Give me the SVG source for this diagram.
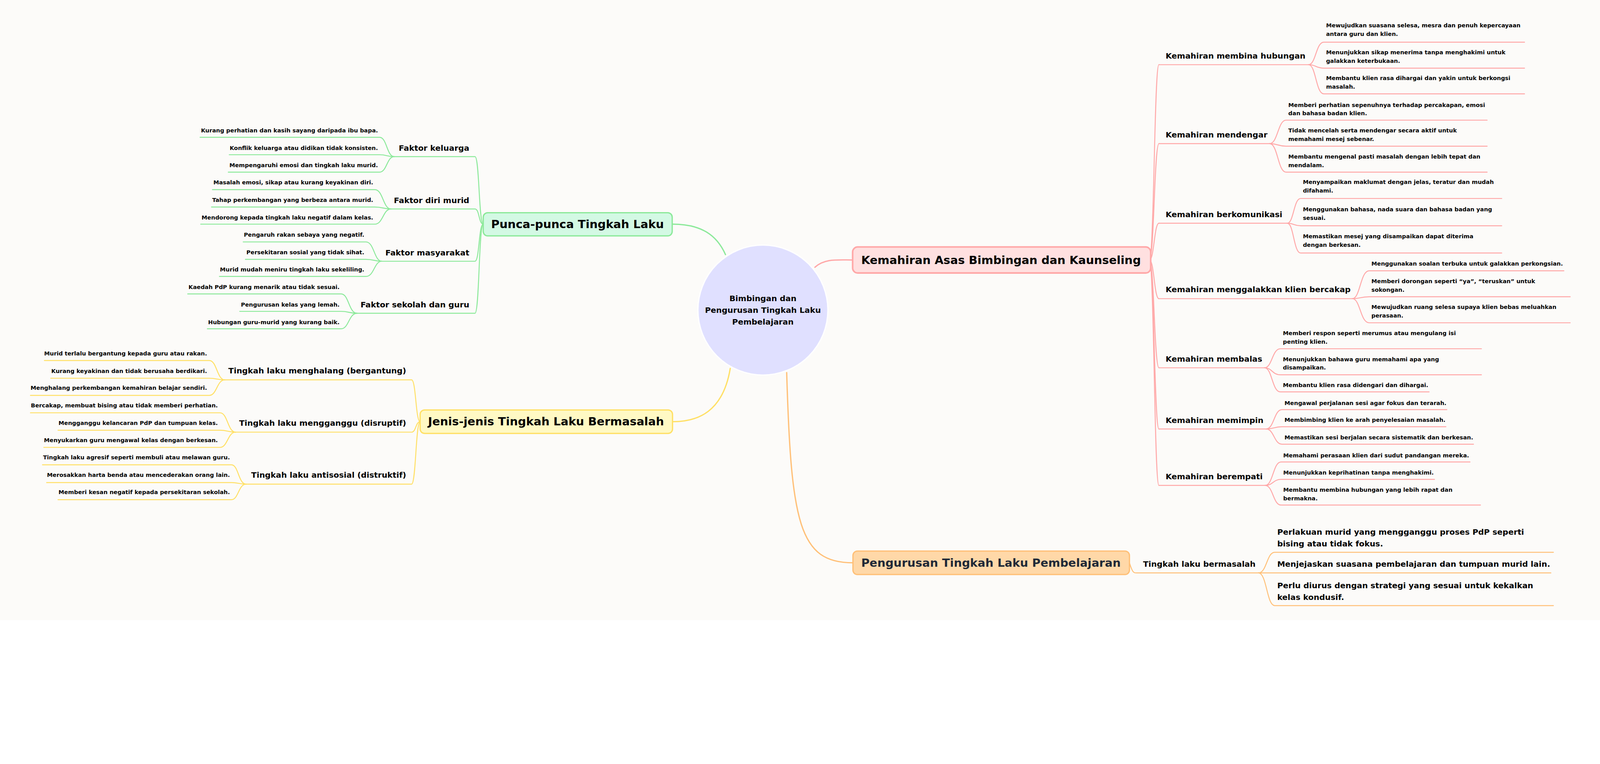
<svg xmlns="http://www.w3.org/2000/svg" width="5046" height="1956" viewBox="0 0 5046 1956" preserveAspectRatio="xMinYMin meet" style="width:100vw;height:100vh;display:block">
<style>
text{font-family:"DejaVu Sans","Liberation Sans",sans-serif;font-weight:bold;fill:#000}
.cp{stroke:#ffa8a8}.cg{stroke:#8ce99a}.cy{stroke:#ffe066}.co{stroke:#ffc078}
path,line{fill:none;stroke-width:3;stroke-linecap:round}
.m{stroke-width:4}
.t1{font-size:36px}.tc{font-size:25px}
.p2{font-size:25px}.p3{font-size:18px}
.g2{font-size:25px}.g3{font-size:18px}
.o2{font-size:25px}.o3{font-size:25px}
.e{text-anchor:end}
</style>
<rect width="5046" height="1956" fill="#fcfbf9"/>
<g id="connectors">
<path class="cg m" d="M2121,707 C2210,707 2260,740 2288,803"/>
<path class="cp m" d="M2570,843 C2600,815 2640,820 2689,820"/>
<path class="cy m" d="M2303,1162 C2280,1300 2200,1330 2121,1330"/>
<path class="co m" d="M2481,1175 C2495,1650 2520,1775 2690,1775"/>
<path class="cp" d="M3625,820 C3640,820 3640,204 3655,204"/>
<path class="cp" d="M3625,820 C3640,820 3640,453 3655,453"/>
<path class="cp" d="M3625,820 C3640,820 3640,704 3655,704"/>
<path class="cp" d="M3625,820 C3640,820 3640,942 3655,942"/>
<path class="cp" d="M3625,820 C3640,820 3640,1160 3655,1160"/>
<path class="cp" d="M3625,820 C3640,820 3640,1353 3655,1353"/>
<path class="cp" d="M3625,820 C3640,820 3640,1531 3655,1531"/>
<line class="cp" x1="3655" y1="204" x2="4127" y2="204"/>
<line class="cp" x1="3655" y1="453" x2="4004" y2="453"/>
<line class="cp" x1="3655" y1="704" x2="4060" y2="704"/>
<line class="cp" x1="3655" y1="942" x2="4265" y2="942"/>
<line class="cp" x1="3655" y1="1160" x2="3988" y2="1160"/>
<line class="cp" x1="3655" y1="1353" x2="3993" y2="1353"/>
<line class="cp" x1="3655" y1="1531" x2="3990" y2="1531"/>
<path class="cp" d="M4127,204 C4150,204 4150,133 4175,133 H4808"/>
<path class="cp" d="M4127,204 C4150,204 4150,215 4175,215 H4808"/>
<path class="cp" d="M4127,204 C4150,204 4150,296 4175,296 H4808"/>
<path class="cp" d="M4004,453 C4030,453 4030,379 4056,379 H4690"/>
<path class="cp" d="M4004,453 C4030,453 4030,461 4056,461 H4690"/>
<path class="cp" d="M4004,453 C4030,453 4030,543 4056,543 H4690"/>
<path class="cp" d="M4060,704 C4080,704 4080,626 4102,626 H4736"/>
<path class="cp" d="M4060,704 C4080,704 4080,712 4102,712 H4736"/>
<path class="cp" d="M4060,704 C4080,704 4080,798 4102,798 H4736"/>
<path class="cp" d="M4265,942 C4290,942 4290,854 4318,854 H4932"/>
<path class="cp" d="M4265,942 C4290,942 4290,936 4318,936 H4952"/>
<path class="cp" d="M4265,942 C4290,942 4290,1018 4318,1018 H4952"/>
<path class="cp" d="M3988,1160 C4012,1160 4012,1100 4038,1100 H4672"/>
<path class="cp" d="M3988,1160 C4012,1160 4012,1182 4038,1182 H4672"/>
<path class="cp" d="M3988,1160 C4012,1160 4012,1236 4038,1236 H4507"/>
<path class="cp" d="M3993,1353 C4018,1353 4018,1292 4043,1292 H4563"/>
<path class="cp" d="M3993,1353 C4018,1353 4018,1346 4043,1346 H4560"/>
<path class="cp" d="M3993,1353 C4018,1353 4018,1401 4043,1401 H4647"/>
<path class="cp" d="M3990,1531 C4015,1531 4015,1457 4040,1457 H4636"/>
<path class="cp" d="M3990,1531 C4015,1531 4015,1512 4040,1512 H4524"/>
<path class="cp" d="M3990,1531 C4015,1531 4015,1593 4040,1593 H4669"/>
<path class="co" d="M3562,1775 C3572,1807 3575,1807 3585,1807 H3969"/>
<path class="co" d="M3969,1807 C3995,1807 3995,1742 4020,1742 H4899"/>
<path class="co" d="M3969,1807 C3995,1807 3995,1807 4020,1807 H4891"/>
<path class="co" d="M3969,1807 C3995,1807 3995,1910 4020,1910 H4899"/>
<path class="cg" d="M1524,707 C1510,707 1512,494 1498,494 H1243"/>
<path class="cg" d="M1524,707 C1510,707 1512,659 1498,659 H1233"/>
<path class="cg" d="M1524,707 C1510,707 1512,824 1498,824 H1204"/>
<path class="cg" d="M1524,707 C1510,707 1512,988 1498,988 H1126"/>
<path class="cg" d="M1243,494 C1220,494 1220,433 1197,433 H631"/>
<path class="cg" d="M1243,494 C1220,494 1220,488 1197,488 H723"/>
<path class="cg" d="M1243,494 C1220,494 1220,543 1197,543 H720"/>
<path class="cg" d="M1233,659 C1208,659 1208,598 1182,598 H670"/>
<path class="cg" d="M1233,659 C1208,659 1208,653 1182,653 H667"/>
<path class="cg" d="M1233,659 C1208,659 1208,707 1182,707 H633"/>
<path class="cg" d="M1204,824 C1180,824 1180,763 1154,763 H767"/>
<path class="cg" d="M1204,824 C1180,824 1180,818 1154,818 H774"/>
<path class="cg" d="M1204,824 C1180,824 1180,872 1154,872 H692"/>
<path class="cg" d="M1126,988 C1100,988 1100,927 1076,927 H592"/>
<path class="cg" d="M1126,988 C1100,988 1100,982 1076,982 H756"/>
<path class="cg" d="M1126,988 C1100,988 1100,1037 1076,1037 H654"/>
<path class="cy" d="M1325,1330 C1311,1330 1312,1198 1298,1198 H709"/>
<path class="cy" d="M1325,1330 C1311,1330 1312,1363 1298,1363 H743"/>
<path class="cy" d="M1325,1330 C1311,1330 1312,1527 1298,1527 H776"/>
<path class="cy" d="M709,1198 C684,1198 684,1137 660,1137 H140"/>
<path class="cy" d="M709,1198 C684,1198 684,1193 660,1193 H160"/>
<path class="cy" d="M709,1198 C684,1198 684,1247 660,1247 H96"/>
<path class="cy" d="M743,1363 C718,1363 718,1302 694,1302 H96"/>
<path class="cy" d="M743,1363 C718,1363 718,1357 694,1357 H183"/>
<path class="cy" d="M743,1363 C718,1363 718,1411 694,1411 H138"/>
<path class="cy" d="M776,1527 C752,1527 752,1466 730,1466 H134"/>
<path class="cy" d="M776,1527 C752,1527 752,1522 730,1522 H147"/>
<path class="cy" d="M776,1527 C752,1527 752,1576 730,1576 H183"/>
</g>
<g id="root">
<circle cx="2406" cy="978" r="205" fill="#e0e0ff" stroke="#fff" stroke-width="4"/>
<text class="tc" x="2406" y="950" text-anchor="middle">Bimbingan dan</text>
<text class="tc" x="2406" y="987" text-anchor="middle">Pengurusan Tingkah Laku</text>
<text class="tc" x="2406" y="1024" text-anchor="middle">Pembelajaran</text>
</g>
<g id="n-kemahiran">
<rect x="2689" y="779" width="940" height="82" rx="16" fill="#ffe0e0" stroke="#ffa8a8" stroke-width="5"/>
<text class="t1" x="2716" y="833">Kemahiran Asas Bimbingan dan Kaunseling</text>
</g>
<g id="n-punca">
<rect x="1524" y="671" width="596" height="73" rx="14" fill="#d3f9e4" stroke="#8ce99a" stroke-width="4"/>
<text class="t1" x="1549" y="720">Punca-punca Tingkah Laku</text>
</g>
<g id="n-jenis">
<rect x="1325" y="1293" width="796" height="74" rx="14" fill="#fff9c4" stroke="#ffe066" stroke-width="4"/>
<text class="t1" x="1350" y="1342">Jenis-jenis Tingkah Laku Bermasalah</text>
</g>
<g id="n-pengurusan">
<rect x="2690" y="1738" width="872" height="74" rx="14" fill="#ffd8a8" stroke="#ffc078" stroke-width="4"/>
<text class="t1" x="2716" y="1788" style="fill:#1f2937">Pengurusan Tingkah Laku Pembelajaran</text>
</g>
<g id="pink-children">
<text class="p2" x="3676" y="185">Kemahiran membina hubungan</text>
<text class="p3" x="4182" y="86">Mewujudkan suasana selesa, mesra dan penuh kepercayaan</text>
<text class="p3" x="4182" y="113">antara guru dan klien.</text>
<text class="p3" x="4182" y="171">Menunjukkan sikap menerima tanpa menghakimi untuk</text>
<text class="p3" x="4182" y="198">galakkan keterbukaan.</text>
<text class="p3" x="4182" y="253">Membantu klien rasa dihargai dan yakin untuk berkongsi</text>
<text class="p3" x="4182" y="280">masalah.</text>
<text class="p2" x="3676" y="434">Kemahiran mendengar</text>
<text class="p3" x="4063" y="337">Memberi perhatian sepenuhnya terhadap percakapan, emosi</text>
<text class="p3" x="4063" y="364">dan bahasa badan klien.</text>
<text class="p3" x="4063" y="418">Tidak mencelah serta mendengar secara aktif untuk</text>
<text class="p3" x="4063" y="445">memahami mesej sebenar.</text>
<text class="p3" x="4063" y="500">Membantu mengenal pasti masalah dengan lebih tepat dan</text>
<text class="p3" x="4063" y="527">mendalam.</text>
<text class="p2" x="3676" y="685">Kemahiran berkomunikasi</text>
<text class="p3" x="4109" y="580">Menyampaikan maklumat dengan jelas, teratur dan mudah</text>
<text class="p3" x="4109" y="607">difahami.</text>
<text class="p3" x="4109" y="666">Menggunakan bahasa, nada suara dan bahasa badan yang</text>
<text class="p3" x="4109" y="693">sesuai.</text>
<text class="p3" x="4109" y="752">Memastikan mesej yang disampaikan dapat diterima</text>
<text class="p3" x="4109" y="779">dengan berkesan.</text>
<text class="p2" x="3676" y="922">Kemahiran menggalakkan klien bercakap</text>
<text class="p3" x="4325" y="838">Menggunakan soalan terbuka untuk galakkan perkongsian.</text>
<text class="p3" x="4325" y="893">Memberi dorongan seperti “ya”, “teruskan” untuk</text>
<text class="p3" x="4325" y="920">sokongan.</text>
<text class="p3" x="4325" y="975">Mewujudkan ruang selesa supaya klien bebas meluahkan</text>
<text class="p3" x="4325" y="1002">perasaan.</text>
<text class="p2" x="3676" y="1141">Kemahiran membalas</text>
<text class="p3" x="4046" y="1057">Memberi respon seperti merumus atau mengulang isi</text>
<text class="p3" x="4046" y="1084">penting klien.</text>
<text class="p3" x="4046" y="1139">Menunjukkan bahawa guru memahami apa yang</text>
<text class="p3" x="4046" y="1166">disampaikan.</text>
<text class="p3" x="4046" y="1221">Membantu klien rasa didengari dan dihargai.</text>
<text class="p2" x="3676" y="1334">Kemahiran memimpin</text>
<text class="p3" x="4051" y="1277">Mengawal perjalanan sesi agar fokus dan terarah.</text>
<text class="p3" x="4051" y="1331">Membimbing klien ke arah penyelesaian masalah.</text>
<text class="p3" x="4051" y="1386">Memastikan sesi berjalan secara sistematik dan berkesan.</text>
<text class="p2" x="3676" y="1512">Kemahiran berempati</text>
<text class="p3" x="4047" y="1442">Memahami perasaan klien dari sudut pandangan mereka.</text>
<text class="p3" x="4047" y="1497">Menunjukkan keprihatinan tanpa menghakimi.</text>
<text class="p3" x="4047" y="1551">Membantu membina hubungan yang lebih rapat dan</text>
<text class="p3" x="4047" y="1578">bermakna.</text>
</g>
<g id="orange-children">
<text class="o2" x="3605" y="1788">Tingkah laku bermasalah</text>
<text class="o3" x="4028" y="1687">Perlakuan murid yang mengganggu proses PdP seperti</text>
<text class="o3" x="4028" y="1724">bising atau tidak fokus.</text>
<text class="o3" x="4028" y="1788">Menjejaskan suasana pembelajaran dan tumpuan murid lain.</text>
<text class="o3" x="4028" y="1855">Perlu diurus dengan strategi yang sesuai untuk kekalkan</text>
<text class="o3" x="4028" y="1892">kelas kondusif.</text>
</g>
<g id="green-children">
<text class="g2 e" x="1480" y="476">Faktor keluarga</text>
<text class="g3 e" x="1192" y="418">Kurang perhatian dan kasih sayang daripada ibu bapa.</text>
<text class="g3 e" x="1192" y="473">Konflik keluarga atau didikan tidak konsisten.</text>
<text class="g3 e" x="1192" y="527">Mempengaruhi emosi dan tingkah laku murid.</text>
<text class="g2 e" x="1480" y="641">Faktor diri murid</text>
<text class="g3 e" x="1177" y="582">Masalah emosi, sikap atau kurang keyakinan diri.</text>
<text class="g3 e" x="1177" y="637">Tahap perkembangan yang berbeza antara murid.</text>
<text class="g3 e" x="1177" y="692">Mendorong kepada tingkah laku negatif dalam kelas.</text>
<text class="g2 e" x="1480" y="806">Faktor masyarakat</text>
<text class="g3 e" x="1149" y="747">Pengaruh rakan sebaya yang negatif.</text>
<text class="g3 e" x="1149" y="802">Persekitaran sosial yang tidak sihat.</text>
<text class="g3 e" x="1149" y="856">Murid mudah meniru tingkah laku sekeliling.</text>
<text class="g2 e" x="1480" y="969">Faktor sekolah dan guru</text>
<text class="g3 e" x="1071" y="912">Kaedah PdP kurang menarik atau tidak sesuai.</text>
<text class="g3 e" x="1071" y="967">Pengurusan kelas yang lemah.</text>
<text class="g3 e" x="1071" y="1022">Hubungan guru-murid yang kurang baik.</text>
</g>
<g id="yellow-children">
<text class="g2 e" x="1281" y="1178">Tingkah laku menghalang (bergantung)</text>
<text class="g3 e" x="653" y="1121">Murid terlalu bergantung kepada guru atau rakan.</text>
<text class="g3 e" x="653" y="1176">Kurang keyakinan dan tidak berusaha berdikari.</text>
<text class="g3 e" x="653" y="1230">Menghalang perkembangan kemahiran belajar sendiri.</text>
<text class="g2 e" x="1281" y="1343">Tingkah laku mengganggu (disruptif)</text>
<text class="g3 e" x="687" y="1285">Bercakap, membuat bising atau tidak memberi perhatian.</text>
<text class="g3 e" x="687" y="1340">Mengganggu kelancaran PdP dan tumpuan kelas.</text>
<text class="g3 e" x="687" y="1395">Menyukarkan guru mengawal kelas dengan berkesan.</text>
<text class="g2 e" x="1281" y="1507">Tingkah laku antisosial (distruktif)</text>
<text class="g3 e" x="725" y="1449">Tingkah laku agresif seperti membuli atau melawan guru.</text>
<text class="g3 e" x="725" y="1504">Merosakkan harta benda atau mencederakan orang lain.</text>
<text class="g3 e" x="725" y="1559">Memberi kesan negatif kepada persekitaran sekolah.</text>
</g>
</svg>
